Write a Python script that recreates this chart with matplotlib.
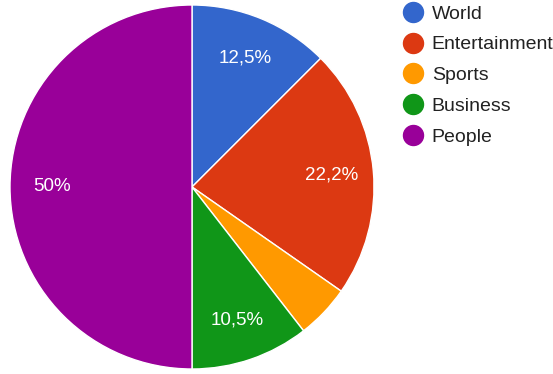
import matplotlib.pyplot as plt
from matplotlib.lines import Line2D

# Data
categories = ["World", "Entertainment", "Sports", "Business", "People"]
shares = [12.5, 22.2, 4.8, 10.5, 50.0]
colors = ["#3366cc", "#dc3912", "#ff9900", "#109618", "#990099"]

plt.rcParams["font.family"] = ["Liberation Sans", "DejaVu Sans"]

W, H = 553, 374
fig = plt.figure(figsize=(W / 100, H / 100), dpi=100)
ax = fig.add_axes([0, 0, 1, 1])


def fmt_pct(p):
    # Google-style: decimal comma, drop ".0", hide small slices
    if p < 6:
        return ""
    s = f"{p:.1f}".rstrip("0").rstrip(".")
    return s.replace(".", ",") + "%"


wedges, texts = ax.pie(
    shares,
    colors=colors,
    center=(192, H - 187),
    radius=182,
    startangle=90,
    counterclock=False,
    labels=[fmt_pct(v) for v in shares],
    labeldistance=0.77,
    textprops=dict(color="white", fontsize=13.5),
    wedgeprops=dict(edgecolor="white", linewidth=1),
    frame=True,
)
for t in texts:
    t.set_ha("center")
    t.set_va("center")
ax.set_xlim(0, W)
ax.set_ylim(0, H)
ax.set_aspect("equal")
ax.axis("off")

# Legend
handles = [
    Line2D([], [], marker="o", linestyle="", markersize=14.4,
           markerfacecolor=c, markeredgecolor=c)
    for c in colors
]
fig.legend(
    handles, categories,
    loc="upper left",
    bbox_to_anchor=(403.6 / W, 1 - 5 / H),
    bbox_transform=fig.transFigure,
    frameon=False,
    fontsize=14,
    handlelength=0.95,
    handletextpad=0.5,
    labelspacing=0.68,
    borderpad=0,
    borderaxespad=0,
    labelcolor="#222222",
)

fig.savefig("out.png", dpi=100)
